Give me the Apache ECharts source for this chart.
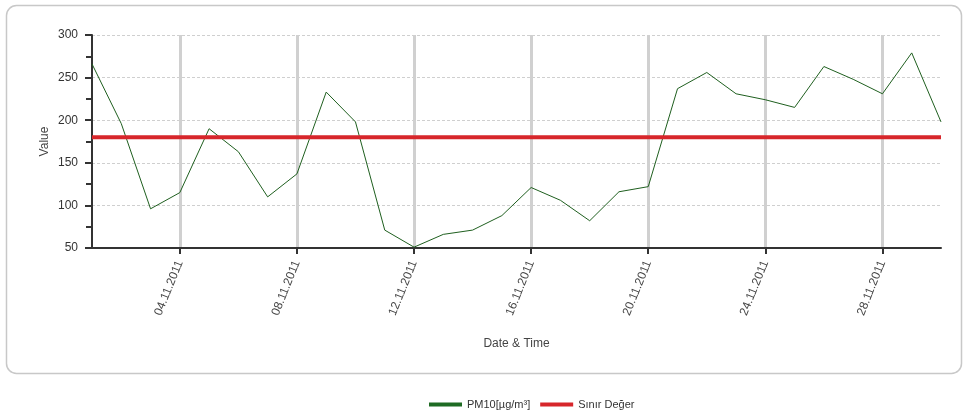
<!DOCTYPE html>
<html>
<head>
<meta charset="utf-8">
<script src="https://cdn.jsdelivr.net/npm/echarts@6/dist/echarts.min.js"></script>
<style>
html,body{margin:0;padding:0;background:#fff;}
#chart{width:963px;height:417px;}
</style>
</head>
<body>
<div id="chart"></div>
<script>
const categories = ['01.11.2011','02.11.2011','03.11.2011','04.11.2011','05.11.2011','06.11.2011','07.11.2011','08.11.2011','09.11.2011','10.11.2011',
  '11.11.2011','12.11.2011','13.11.2011','14.11.2011','15.11.2011','16.11.2011','17.11.2011','18.11.2011','19.11.2011','20.11.2011',
  '21.11.2011','22.11.2011','23.11.2011','24.11.2011','25.11.2011','26.11.2011','27.11.2011','28.11.2011','29.11.2011','30.11.2011'];
const pm10Values = [266, 196, 96, 115, 190, 163, 110, 137, 233, 198, 71, 51, 66, 71, 88, 121, 106, 82, 116, 122, 237, 256, 231, 224, 215, 263, 248, 231, 279, 198];
const limitValues = [180, 180, 180, 180, 180, 180, 180, 180, 180, 180, 180, 180, 180, 180, 180, 180, 180, 180, 180, 180, 180, 180, 180, 180, 180, 180, 180, 180, 180, 180];
const yTicks = [50, 100, 150, 200, 250, 300];

const chart = echarts.init(document.getElementById('chart'), null, {renderer: 'canvas'});
const showIdx = (i) => (i - 3) % 4 === 0 && i >= 3;
const font = 'Liberation Sans, Arial, sans-serif';

chart.setOption({
  animation: false,
  backgroundColor: '#fff',
  graphic: [{
    type: 'rect', silent: true, z: -10,
    shape: {x: 6.5, y: 5.5, width: 955, height: 368, r: 10},
    style: {fill: '#fff', stroke: '#c8c8c8', lineWidth: 1.5}
  }],
  grid: {left: 92, right: 22, top: 35, bottom: 169, containLabel: false},
  legend: {
    bottom: 2, left: 424,
    itemWidth: 33, itemHeight: 4, itemGap: 10,
    textStyle: {fontFamily: font, fontSize: 11, color: '#333'},
    data: [
      {name: 'PM10[µg/m³]', icon: 'rect'},
      {name: 'Sınır Değer', icon: 'rect'}
    ]
  },
  xAxis: {
    type: 'category',
    data: categories,
    boundaryGap: false,
    name: 'Date & Time',
    nameLocation: 'middle',
    nameGap: 90,
    nameMoveOverlap: false,
    nameTextStyle: {fontFamily: font, fontSize: 12, color: '#444'},
    axisLine: {lineStyle: {color: '#333', width: 2}},
    axisTick: {show: true, interval: (i) => showIdx(i), length: 6, lineStyle: {color: '#333', width: 2}},
    axisLabel: {interval: (i) => showIdx(i), rotate: 68, margin: 13, fontFamily: font, fontSize: 12, color: '#444'},
    splitLine: {show: true, interval: (i) => showIdx(i), lineStyle: {color: '#d0d0d0', width: 3}}
  },
  yAxis: {
    type: 'value',
    min: 50, max: 300, interval: 50,
    name: 'Value',
    nameLocation: 'middle',
    nameGap: 41,
    nameMoveOverlap: false,
    nameRotate: 90,
    nameTextStyle: {fontFamily: font, fontSize: 12, color: '#444'},
    axisLine: {show: true, lineStyle: {color: '#333', width: 2}},
    axisTick: {show: true, length: 7, lineStyle: {color: '#333', width: 2}},
    minorTick: {show: true, splitNumber: 2, length: 6, lineStyle: {color: '#333', width: 2}},
    axisLabel: {margin: 14, fontFamily: font, fontSize: 12, color: '#333'},
    splitLine: {show: true, lineStyle: {color: '#cfcfcf', width: 1, type: [3, 2]}}
  },
  series: [
    {
      name: 'PM10[µg/m³]', type: 'line', data: pm10Values,
      showSymbol: false, symbol: 'none', z: 3,
      lineStyle: {color: '#1f5f1f', width: 1},
      itemStyle: {color: '#1e6b23'}
    },
    {
      name: 'Sınır Değer', type: 'line', data: limitValues,
      showSymbol: false, symbol: 'none', z: 4,
      lineStyle: {color: '#d7262b', width: 4},
      itemStyle: {color: '#d7262b'}
    }
  ]
});
</script>
</body>
</html>
